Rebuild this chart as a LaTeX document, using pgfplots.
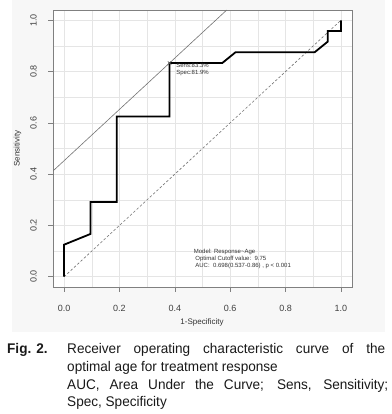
\documentclass[border=0pt]{standalone}
\usepackage{pgfplots}
\pgfplotsset{compat=1.18}
\usepackage{fontspec}
\setmainfont{Liberation Sans}
\newfontfamily\capfont[FakeStretch=0.97]{Liberation Sans}
\begin{document}
\begin{tikzpicture}
\useasboundingbox (0pt,0pt) rectangle (391pt,414pt);
\fill[black!3] (12pt,82pt) rectangle (385pt,414pt);
\begin{axis}[
  at={(53pt,127pt)}, anchor=south west, scale only axis,
  width=299pt, height=277pt,
  xmin=-0.04, xmax=1.04, ymin=-0.04, ymax=1.04,
  axis background/.style={fill=white},
  xtick={0,0.2,0.4,0.6,0.8,1}, xticklabels={0.0,0.2,0.4,0.6,0.8,1.0},
  ytick={0,0.2,0.4,0.6,0.8,1}, yticklabels={0.0,0.2,0.4,0.6,0.8,1.0},
  minor xtick={0.1,0.3,0.5,0.7,0.9}, minor ytick={0.1,0.3,0.5,0.7,0.9},
  grid=both,
  grid style={black!10, line width=0.5pt},
  minor grid style={black!10, line width=0.5pt},
  tick align=outside, major tick length=5pt, minor tick length=0pt,
  xtick pos=bottom, ytick pos=left,
  axis line style={black!50, line width=0.6pt},
  major tick style={black!50, line width=0.6pt},
  tick label style={font=\fontsize{9}{10}\selectfont, text=black!75},
  yticklabel style={rotate=90, anchor=south, inner sep=0pt},
  xticklabel style={anchor=north, inner sep=0pt},
  yticklabel shift=11pt, xticklabel shift=13pt,
]
\addplot[black!55, line width=0.6pt, dash pattern=on 2.5pt off 2pt] coordinates {(0,0) (1,1)};
\addplot[black!55, line width=0.6pt] coordinates {(-0.04,0.4124) (0.5876,1.04)};
\addplot[black, line width=1.8pt] coordinates {
(0,0) (0,0.125) (0.0952,0.1667) (0.0952,0.2917) (0.1905,0.2917) (0.1905,0.625)
(0.381,0.625) (0.381,0.8333) (0.5714,0.8333) (0.619,0.875) (0.9048,0.875)
(0.9524,0.9167) (0.9524,0.9583) (1,0.9583) (1,1)};
\addplot[only marks, mark=x, mark size=2.5pt, black!60, line width=0.5pt] coordinates {(0.381,0.8333)};
\node[anchor=west, inner sep=0pt, font=\fontsize{6}{7}\selectfont, text=black!80, align=left] at (axis cs:0.405,0.806) {Sens:83.3\%\\Spec:81.9\%};
\node[anchor=west, inner sep=0pt, font=\fontsize{6}{7.2}\selectfont, text=black!80, align=left] at (axis cs:0.468,0.07) {Model: Response\textasciitilde Age\\\hspace*{1.5pt}Optimal Cutoff value:\ \ 9.75\\\hspace*{1.5pt}AUC:\ \ 0.698(0.537-0.86) , p < 0.001};
\end{axis}
\node[font=\fontsize{8}{9}\selectfont, text=black!80] at (202pt,91.3pt) {1-Specificity};
\node[font=\fontsize{8}{9}\selectfont, text=black!80, rotate=90] at (17.5pt,265.5pt) {Sensitivity};
\begin{scope}[every node/.style={inner sep=0pt, anchor=base west, font=\capfont\fontsize{14}{16}\selectfont, text=black!90}]
\node at (7pt,60pt) {\textbf{Fig. 2.}};
\node at (67pt,60pt) {\makebox[318pt][s]{Receiver operating characteristic curve of the}};
\node at (67pt,42pt) {optimal age for treatment response};
\node at (67pt,24.5pt) {\makebox[321pt][s]{AUC, Area Under the Curve; Sens, Sensitivity;}};
\node at (67pt,7pt) {Spec, Specificity};
\end{scope}
\end{tikzpicture}
\end{document}
